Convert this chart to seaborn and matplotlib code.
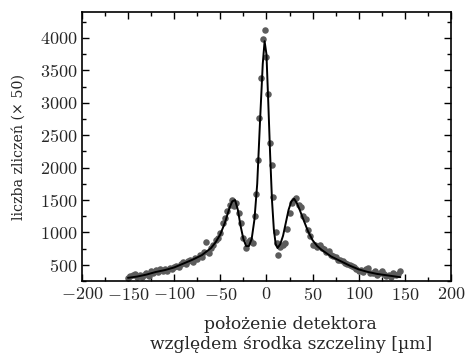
import numpy as np
import pandas as pd
import seaborn as sns
import matplotlib.pyplot as plt
from matplotlib.ticker import MultipleLocator

# measured counts (x 50) vs detector position [um]
x_data = [-150, -147.5, -145, -142.5, -140, -137.5, -135, -132.5, -130, -127.5,
          -125, -122.5, -120, -117.5, -115, -112.5, -110, -107.5, -105, -102.5,
          -100, -97.5, -95, -92.5, -90, -87.5, -85, -82.5, -80, -77.5,
          -75, -72.5, -70, -67.5, -65, -62.5, -60, -57.5, -55, -52.5,
          -50, -47.5, -45, -42.5, -40, -37.5, -35, -32.5, -30, -27.5,
          -25, -22.5, -20, -17.5, -15, -12.5, -11, -9.5, -8, -6,
          -4, -2, 0, 2, 4, 5.5, 7.5, 10, 11, 13,
          15, 17.5, 20, 22.5, 25, 27.5, 30, 32.5, 35, 37.5,
          40, 42.5, 45, 47.5, 50, 52.5, 55, 57.5, 60, 62.5,
          65, 67.5, 70, 72.5, 75, 77.5, 80, 82.5, 85, 87.5,
          90, 92.5, 95, 97.5, 100, 102.5, 105, 107.5, 110, 112.5,
          115, 117.5, 120, 122.5, 125, 127.5, 130, 132.5, 135, 137.5,
          140, 142.5, 145]
y_data = [290, 330, 350, 360, 310, 340, 320, 350, 380, 330,
          400, 380, 420, 390, 430, 400, 440, 410, 450, 430,
          470, 490, 460, 520, 540, 510, 560, 570, 550, 600,
          590, 650, 620, 700, 860, 690, 760, 800, 880, 920,
          990, 1150, 1230, 1330, 1420, 1500, 1410, 1460, 1300, 1150,
          910, 760, 850, 880, 830, 1250, 1600, 2120, 2760, 3380,
          3990, 4120, 3700, 3130, 2380, 2040, 1550, 1000, 830, 650,
          780, 800, 830, 1050, 1300, 1450, 1500, 1530, 1420, 1400,
          1250, 1200, 1040, 950, 810, 800, 780, 810, 760, 740,
          700, 720, 650, 630, 620, 580, 580, 560, 530, 520,
          500, 480, 470, 440, 400, 420, 390, 430, 450, 380,
          370, 400, 350, 380, 410, 360, 330, 350, 320, 370,
          340, 360, 400]

# fitted curve
x_fit = [-150, -140, -130, -120, -110, -100, -90, -80, -70, -60,
         -55, -50, -45, -40, -37, -34, -31, -28, -25, -22,
         -19, -16, -13, -10, -7, -4, -2, 0, 2, 4,
         6, 8, 10, 12, 15, 18, 21, 24, 27, 30,
         33, 36, 40, 45, 50, 55, 60, 70, 80, 90,
         100, 110, 120, 130, 140, 145]
y_fit = [300, 320, 350, 390, 420, 460, 520, 580, 650, 760,
         850, 970, 1150, 1380, 1480, 1500, 1350, 1100, 900, 790,
         790, 900, 1200, 1750, 2700, 3600, 3950, 3750, 3000, 2200,
         1500, 1050, 820, 760, 820, 950, 1150, 1350, 1480, 1520,
         1450, 1350, 1200, 1020, 880, 790, 730, 630, 560, 490,
         430, 390, 360, 340, 320, 310]

pts = pd.DataFrame({"x": x_data, "y": y_data})
fit = pd.DataFrame({"x": x_fit, "y": y_fit})

sns.set_style("ticks")
plt.rcParams['font.family'] = ['cmr10', 'DejaVu Serif']
plt.rcParams['mathtext.fontset'] = 'cm'
plt.rcParams['axes.formatter.use_mathtext'] = True

fig = plt.figure(figsize=(4.65, 3.54), dpi=100)
ax = fig.add_axes([0.176, 0.206, 0.794, 0.760])

sns.scatterplot(data=pts, x="x", y="y", color="#5c5c5c", s=22,
                linewidth=0, ax=ax, zorder=2)
sns.lineplot(data=fit, x="x", y="y", color="black", linewidth=1.4,
             sort=False, ax=ax, zorder=3)

ax.set_xlim(-200, 200)
ax.set_ylim(250, 4400)
ax.xaxis.set_major_locator(MultipleLocator(50))
ax.xaxis.set_minor_locator(MultipleLocator(25))
ax.yaxis.set_major_locator(MultipleLocator(500))
ax.yaxis.set_minor_locator(MultipleLocator(250))
ax.tick_params(which='both', direction='in', top=True, right=True,
               labelsize=13, width=1.0, color='black')
ax.tick_params(which='major', length=5)
ax.tick_params(which='minor', length=3)
for s in ax.spines.values():
    s.set_linewidth(1.2)
    s.set_color('black')

# cmr10 lacks Polish letters, so the labels use a serif with full coverage
ax.set_xlabel("położenie detektora\nwzględem środka szczeliny [µm]",
              fontsize=12.3, family='DejaVu Serif', linespacing=1.25)
ax.xaxis.set_label_coords(0.566, -0.13)
ax.set_ylabel("liczba zliczeń (× 50)", fontsize=10.2, family='DejaVu Serif')
ax.yaxis.set_label_coords(-0.152, 0.5)

fig.savefig("out.png", dpi=100)
